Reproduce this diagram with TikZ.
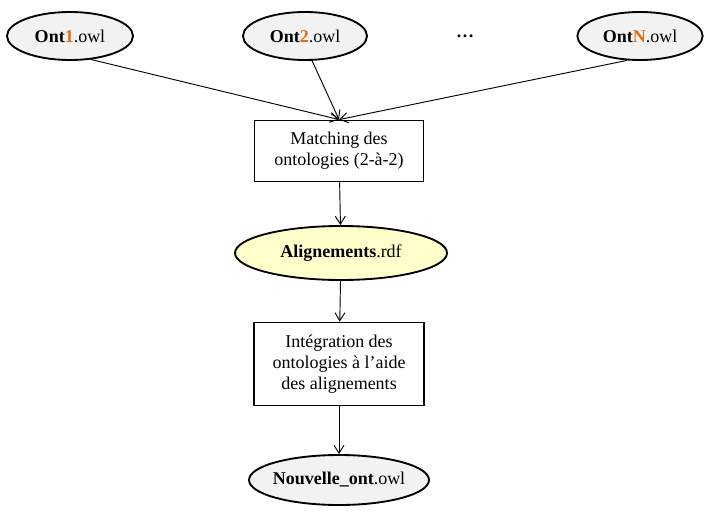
\documentclass[tikz,border=0pt]{standalone}
\usepackage{fontspec}
\setmainfont{Liberation Serif}
\usepackage{xcolor}
\usetikzlibrary{
	arrows.meta,
	positioning,
	shapes.geometric
}
\definecolor{OntOrange}{RGB}{228,108,10}
\definecolor{FileGray}{RGB}{242,242,242}
\definecolor{PaleYellow}{RGB}{255,255,204}

\begin{document}
\begin{tikzpicture}[x=0.75pt, y=-0.75pt,
		font=\fontsize{13.5}{15.6}\selectfont,
		owlfile/.style={ellipse, draw, line width=1.4pt, fill=FileGray, inner sep=0pt},
		process/.style={rectangle, draw, line width=1.4pt, fill=white, align=center, inner sep=0pt},
		flow/.style={-{Straight Barb[length=6pt, width=7.5pt]}, line width=0.7pt}]
		\useasboundingbox (0,0) rectangle (714,514);
		
		\node[owlfile, minimum width=94.5pt, minimum height=36pt] (o1) at (70,36) {\textbf{Ont\textcolor{OntOrange}{1}}.owl};
		\node[owlfile, minimum width=93pt, minimum height=36pt] (o2) at (305,36) {\textbf{Ont\textcolor{OntOrange}{2}}.owl};
		\node (dots) at (465,36) {\textbf{\dots}};
		\node[owlfile, minimum width=94pt, minimum height=36pt] (oN) at (640,36) {\textbf{Ont\textcolor{OntOrange}{N}}.owl};
		
		\node[process, minimum width=126.75pt, minimum height=45.75pt] (match) at (339,151) {Matching des\\ontologies (2-à-2)};
		\node[owlfile, fill=PaleYellow, minimum width=159pt, minimum height=40.5pt] (align) at (341,253) {\textbf{Alignements}.rdf};
		\node[process, minimum width=127.5pt, minimum height=62.25pt] (integ) at (339,364) {Intégration des\\ontologies à l’aide\\des alignements};
		\node[owlfile, inner xsep=-2pt, minimum width=135pt, minimum height=37.5pt] (new) at (339,480) {\textbf{Nouvelle\_ont}.owl};
		
		\draw[flow] (o1.-48) -- (match.north);
		\draw[flow] (o2.-74) -- (match.north);
		\draw[flow] (oN.-118) -- (match.north);
		\draw[flow] (match) -- (align);
		\draw[flow] (align) -- (integ);
		\draw[flow] (integ) -- (new);
	\end{tikzpicture}
\end{document}
